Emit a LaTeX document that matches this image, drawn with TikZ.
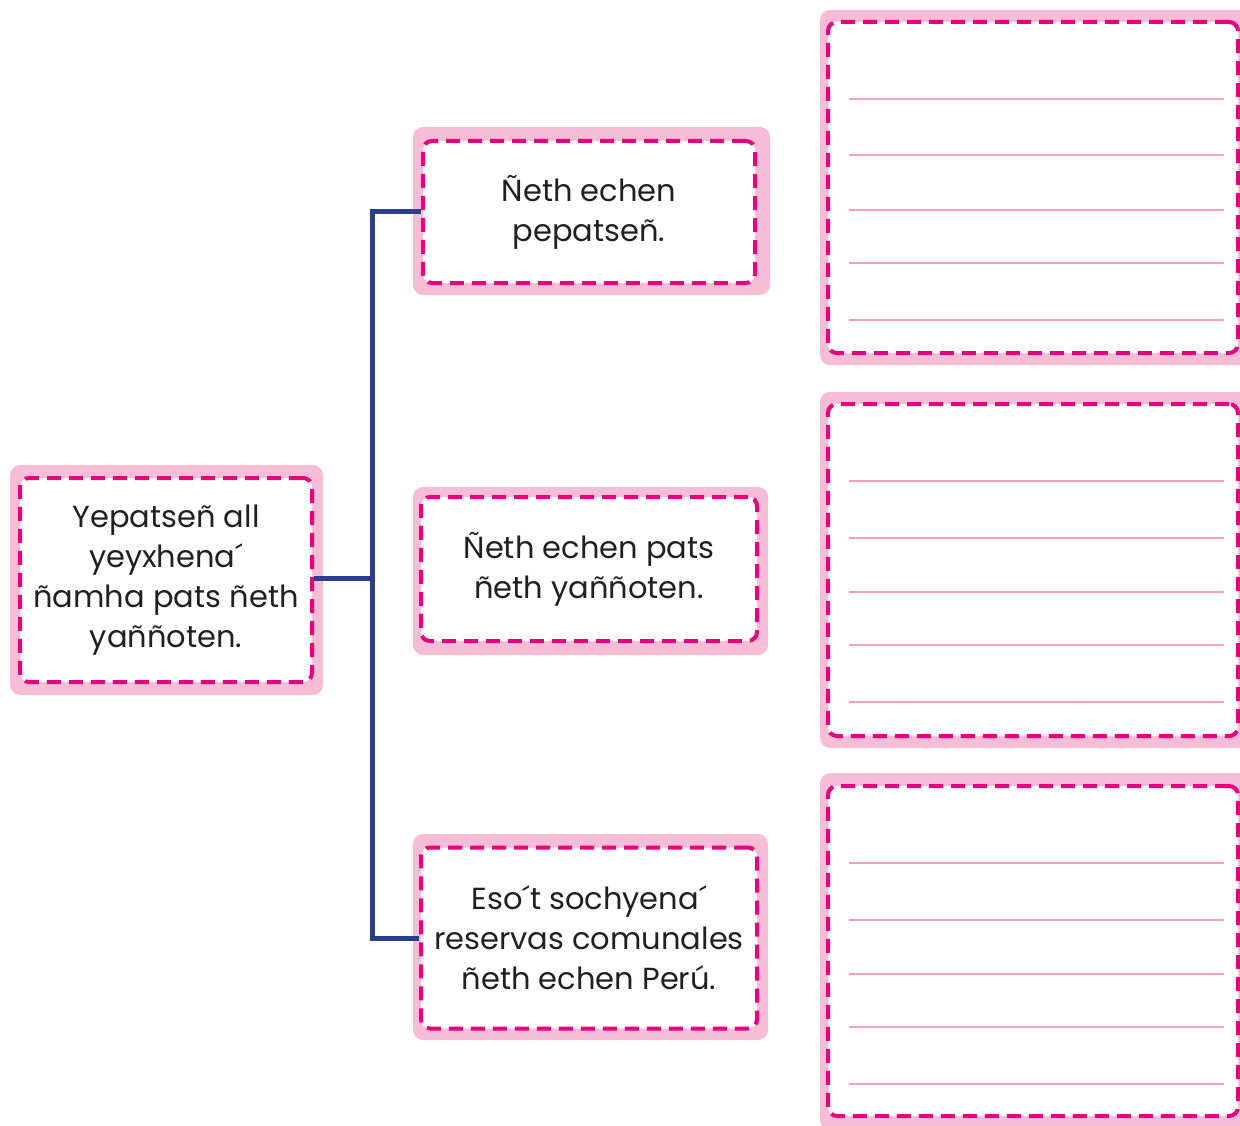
\documentclass[tikz,border=0pt]{standalone}
\usepackage{fontspec}
\setmainfont{Poppins}
\definecolor{padpink}{HTML}{F7BDD6}
\definecolor{dashpink}{HTML}{E6007E}
\definecolor{rulepink}{HTML}{F19EC2}
\definecolor{linkblue}{HTML}{2B3E8C}
\definecolor{txt}{HTML}{231F20}
\tikzset{
  pad/.style={fill=padpink, draw=none, rounded corners=10pt, inner sep=0pt},
  card/.style={fill=white, draw=dashpink, line width=4pt, dash pattern=on 14pt off 8pt,
    rounded corners=9pt, inner sep=0pt, align=center, text=txt,
    font=\fontsize{30.5}{40}\selectfont},
  link/.style={draw=linkblue, line width=5pt},
  writeline/.style={draw=rulepink, line width=2.5pt}
}
\begin{document}
\begin{tikzpicture}[x=1pt,y=-1pt]
\useasboundingbox (0,0) rectangle (1240,1126);
% left box
\node[pad, minimum width=313pt, minimum height=230pt] (lp) at (166.5,580) {};
\node[card, minimum width=292pt, minimum height=204pt] (l) at (166,580) {Yepatseñ all\\yeyxhena´\\ñamha pats ñeth\\yaññoten.};
% middle boxes
\node[pad, minimum width=357pt, minimum height=168pt] (m1p) at (591.5,211) {};
\node[card, minimum width=332pt, minimum height=142pt] (m1) at (589,212) {Ñeth echen\\pepatseñ.};
\node[pad, minimum width=355pt, minimum height=168pt] (m2p) at (590.5,571) {};
\node[card, minimum width=336pt, minimum height=144pt] (m2) at (589,569) {Ñeth echen pats\\ñeth yaññoten.};
\node[pad, minimum width=355pt, minimum height=206pt] (m3p) at (590.5,937) {};
\node[card, minimum width=336pt, minimum height=181pt] (m3) at (589,938) {Eso´t sochyena´\\reservas comunales\\ñeth echen Perú.};
% right boxes
\node[pad, minimum width=430pt, minimum height=355pt] (r1p) at (1035,187.5) {};
\node[card, minimum width=410pt, minimum height=331pt] (r1) at (1033,187.5) {};
\node[pad, minimum width=430pt, minimum height=356pt] (r2p) at (1035,570) {};
\node[card, minimum width=410pt, minimum height=332pt] (r2) at (1033,570) {};
\node[pad, minimum width=430pt, minimum height=357pt] (r3p) at (1035,951.5) {};
\node[card, minimum width=410pt, minimum height=330pt] (r3) at (1033,951) {};
% writing lines
\foreach \yy in {99,155,210,263,320,481,538,592,645,702,863,920,974,1027,1084}
  \draw[writeline] (849,\yy) -- (1224,\yy);
% connectors
\coordinate (j) at (372,578);
\draw[link] (l.east |- j) -- (j);
\draw[link] (m1.west) -| (j) |- (m3.west);
\end{tikzpicture}
\end{document}
